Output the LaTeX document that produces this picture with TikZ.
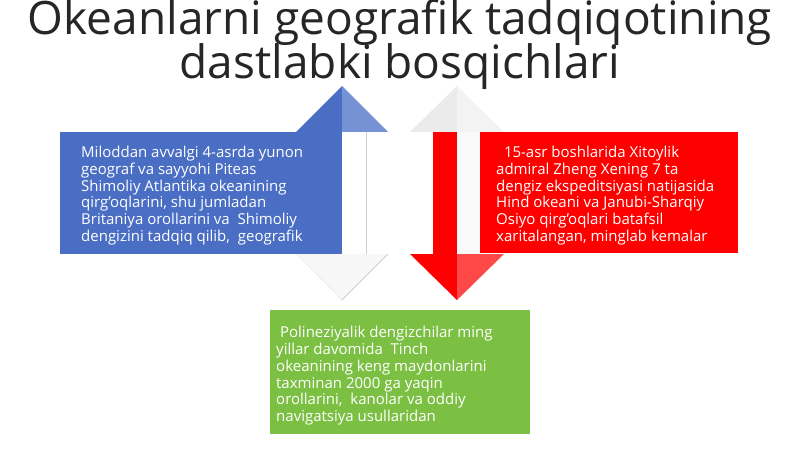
\documentclass[tikz,border=0pt]{standalone}
\usepackage{fontspec}
\setmainfont{Open Sans}
\definecolor{bluebox}{HTML}{4A6EC4}
\definecolor{bluelight}{HTML}{7592D4}
\definecolor{redlight}{HTML}{FF4848}
\definecolor{greenbox}{HTML}{7CC043}
\definecolor{titlecol}{HTML}{262626}
\definecolor{grayhead}{HTML}{EBEBEB}
\definecolor{grayheadl}{HTML}{F3F3F3}
\definecolor{edgegray}{HTML}{CFCFCF}
\tikzset{
  boxtext/.style={anchor=north west, inner sep=0pt, align=left, text=white,
    font=\fontsize{15}{16.8}\selectfont},
  titletext/.style={text=titlecol, font=\fontsize{46}{48}\selectfont, inner sep=0pt},
}
\begin{document}
\begin{tikzpicture}[x=1pt,y=-1pt]
\useasboundingbox (0,0) rectangle (800,449);
\fill[white] (0,0) rectangle (800,449);
% title
\node[titletext] (t1) at (400,22) {Okeanlarni geografik tadqiqotining};
\node[titletext] (t2) at (400,67) {dastlabki bosqichlari};
% left column arrows
\fill[bluebox] (296,132) -- (342,86) -- (342,132) -- cycle;
\fill[bluelight] (342,86) -- (388,132) -- (342,132) -- cycle;
\fill[bluebox] (318,132) rectangle (342,254);
\fill[white] (342,132) rectangle (366,254);
\draw[edgegray, line width=1pt] (366,132) -- (366,254);
\fill[gray!6] (297,254) -- (342,300) -- (388,254) -- cycle;
\draw[gray!15, line width=0.8pt] (297,254) -- (342,300);
\draw[edgegray, line width=1pt] (342,300) -- (388,254);
% right column arrows
\fill[grayhead] (410,132) -- (457,86) -- (457,132) -- cycle;
\fill[grayheadl] (457,86) -- (504,132) -- (457,132) -- cycle;
\fill[red] (433,132) rectangle (457,254);
\fill[gray!5] (457,132) rectangle (480,254);
\fill[red] (410,254) -- (457,300) -- (457,254) -- cycle;
\fill[redlight] (457,300) -- (504,254) -- (457,254) -- cycle;
% boxes
\fill[bluebox] (60,132) rectangle (318,254);
\node[boxtext] (bluetext) at (81,146) { Miloddan avvalgi 4-asrda yunon\\geograf va sayyohi Piteas\\Shimoliy Atlantika okeanining\\qirg'oqlarini, shu jumladan\\Britaniya orollarini va\ \ Shimoliy\\dengizini tadqiq qilib,\ \ geografik};
\fill[red] (480,132) rectangle (738,253);
\node[boxtext] (redtext) at (496,146) {\ \ 15-asr boshlarida Xitoylik\\admiral Zheng Xening 7 ta\\dengiz ekspeditsiyasi natijasida\\Hind okeani va Janubi-Sharqiy\\Osiyo qirg'oqlari batafsil\\xaritalangan, minglab kemalar};
\fill[greenbox] (270,310) rectangle (530,434);
\node[boxtext] (greentext) at (276,326) {\ Polineziyalik dengizchilar ming\\yillar davomida\ \ Tinch\\okeanining keng maydonlarini\\taxminan 2000 ga yaqin\\orollarini,\ \ kanolar va oddiy\\navigatsiya usullaridan};
\end{tikzpicture}
\end{document}
